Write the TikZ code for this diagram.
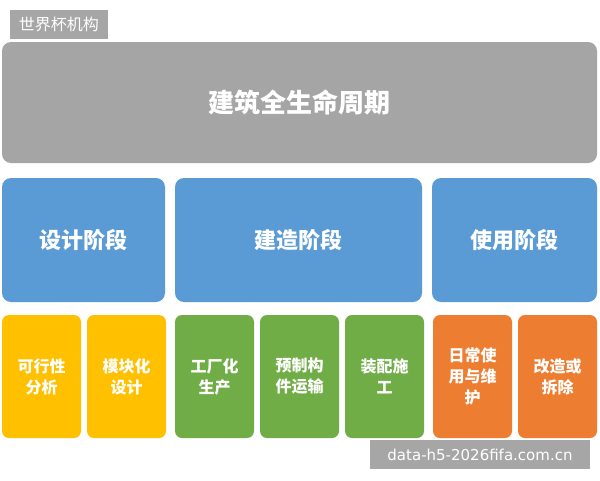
\documentclass[tikz,border=0pt]{standalone}
\usepackage{fontspec}
\newfontfamily\cjk{Noto Sans CJK SC}
\newfontfamily\wmfont{DejaVu Sans}
\definecolor{cgray}{HTML}{A5A5A5}
\definecolor{cblue}{HTML}{5B9BD5}
\definecolor{cyellow}{HTML}{FFC000}
\definecolor{cgreen}{HTML}{70AD47}
\definecolor{corange}{HTML}{ED7D31}
\definecolor{wm}{HTML}{A6A6A6}
\tikzset{
  box/.style={rounded corners=9pt, inner sep=0pt, text=white, align=center, font=\cjk\bfseries},
  topbox/.style={box, fill=cgray, font=\cjk\bfseries\fontsize{26}{30}\selectfont},
  phase/.style={box, fill=cblue, font=\cjk\bfseries\fontsize{22}{26}\selectfont},
  sub/.style={box, rounded corners=7pt, font=\cjk\bfseries\fontsize{16}{21}\selectfont},
  wmark/.style={fill=wm, text=white, inner sep=0pt, font=\cjk\fontsize{16}{19}\selectfont}
}
\begin{document}
\begin{tikzpicture}[x=1pt,y=-1pt]
\useasboundingbox (0,0) rectangle (600,480);
\fill[white] (0,0) rectangle (600,480);
% top
\node[topbox, minimum width=595pt, minimum height=121pt] (life) at (299.5,102.5) {建筑全生命周期};
% phases
\node[phase, minimum width=163pt, minimum height=124pt] (design) at (83.5,240) {设计阶段};
\node[phase, minimum width=247pt, minimum height=124pt] (build) at (298.5,240) {建造阶段};
\node[phase, minimum width=165pt, minimum height=124pt] (use) at (514.5,240) {使用阶段};
% sub boxes
\node[sub, fill=cyellow, minimum width=79pt, minimum height=123pt] (s1) at (41.5,376.5) {可行性\\分析};
\node[sub, fill=cyellow, minimum width=79pt, minimum height=123pt] (s2) at (126.5,376.5) {模块化\\设计};
\node[sub, fill=cgreen, minimum width=79pt, minimum height=123pt] (s3) at (214.5,376.5) {工厂化\\生产};
\node[sub, fill=cgreen, minimum width=79pt, minimum height=123pt] (s4) at (299.5,376.5) {预制构\\件运输};
\node[sub, fill=cgreen, minimum width=79pt, minimum height=123pt] (s5) at (384.5,376.5) {装配施\\工};
\node[sub, fill=corange, minimum width=79pt, minimum height=123pt] (s6) at (472.5,376.5) {日常使\\用与维\\护};
\node[sub, fill=corange, minimum width=79pt, minimum height=123pt] (s7) at (557.5,376.5) {改造或\\拆除};
% watermarks
\node[wmark, minimum width=98pt, minimum height=29pt] (wm1) at (59,24.5) {世界杯机构};
\node[wmark, font=\wmfont\fontsize{15}{18}\selectfont, minimum width=220pt, minimum height=29pt] (wm2) at (480,454.5) {data-h5-2026fifa.com.cn};
\end{tikzpicture}
\end{document}
